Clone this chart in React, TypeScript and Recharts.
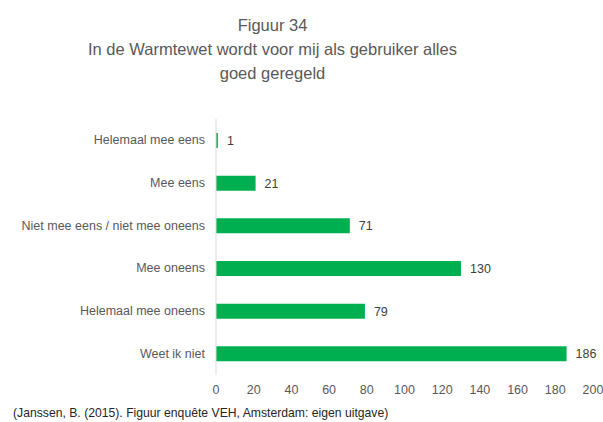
import { BarChart, Bar, XAxis, YAxis, LabelList } from 'recharts'

const categories = [
  'Helemaal mee eens',
  'Mee eens',
  'Niet mee eens / niet mee oneens',
  'Mee oneens',
  'Helemaal mee oneens',
  'Weet ik niet'
]
const counts = [1, 21, 71, 130, 79, 186]
const xTicks = [0, 20, 40, 60, 80, 100, 120, 140, 160, 180, 200]

const titleLines = ['Figuur 34', 'In de Warmtewet wordt voor mij als gebruiker alles', 'goed geregeld']
const caption = '(Janssen, B. (2015). Figuur enquête VEH, Amsterdam: eigen uitgave)'

const font = '"Liberation Sans", Arial, sans-serif'

const CategoryTick = (props: any) => {
  const { x, y, payload } = props
  return (
    <text x={x - 3} y={y} dy={4} textAnchor="end" fill="#595959" fontSize={12.5} fontFamily={font}>
      {payload.value}
    </text>
  )
}

export default function App() {
  const chartData = categories.map((name, i) => ({ name, value: counts[i] }))

  return (
    <div style={{ position: 'absolute', left: 0, top: 0, width: 603, height: 422, background: '#fff', fontFamily: font }}>
      <div style={{ position: 'absolute', left: 0, top: 13, width: 545, textAlign: 'center', color: '#595959', fontSize: 16.5, lineHeight: '24px' }}>
        {titleLines.map(line => <div key={line}>{line}</div>)}
      </div>
      <BarChart
        width={603}
        height={422}
        data={chartData}
        layout="vertical"
        margin={{ top: 119, right: 10, bottom: 17, left: 16 }}
        barCategoryGap={14}
      >
        <XAxis
          type="number"
          domain={[0, 200]}
          ticks={xTicks}
          axisLine={false}
          tickLine={false}
          tick={{ fill: '#595959', fontSize: 12.5, fontFamily: font }}
          tickMargin={4}
          height={30}
        />
        <YAxis
          type="category"
          dataKey="name"
          width={200}
          axisLine={{ stroke: '#d9d9d9' }}
          tickLine={false}
          tick={<CategoryTick />}
        />
        <Bar dataKey="value" fill="#00b050" barSize={15} isAnimationActive={false}>
          <LabelList dataKey="value" position="right" offset={9} fill="#404040" fontSize={12.5} fontFamily={font} />
        </Bar>
      </BarChart>
      <div style={{ position: 'absolute', left: 13, top: 406, color: '#262626', fontSize: 12.2 }}>
        {caption}
      </div>
    </div>
  )
}
